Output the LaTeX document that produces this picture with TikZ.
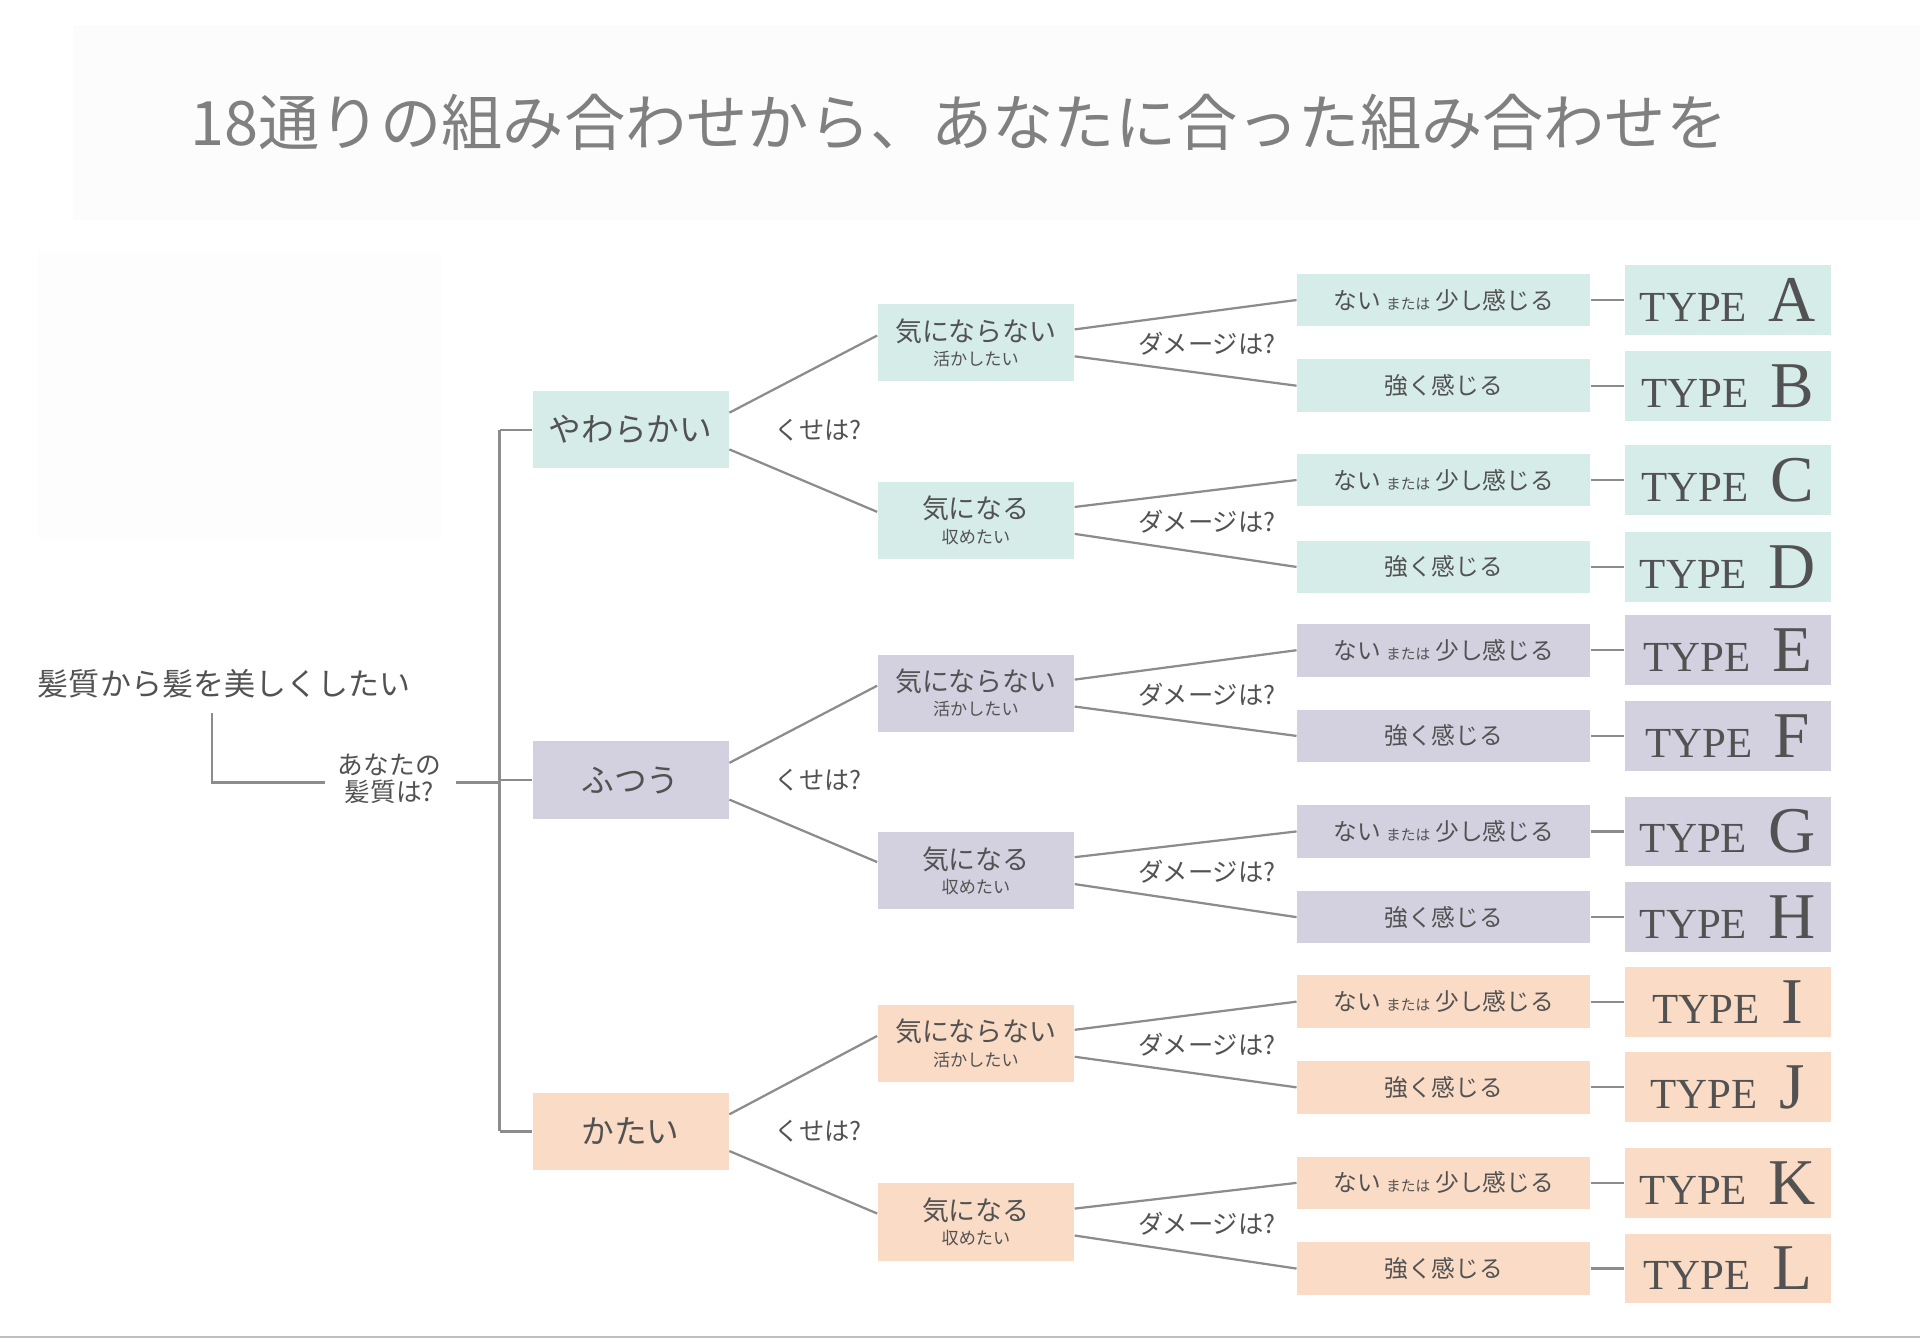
\documentclass[tikz,border=0pt]{standalone}
\usepackage{fontspec}
\setmainfont{Noto Sans CJK JP}[Scale=1]
\newfontfamily\lat{Liberation Serif}
\begin{document}
\begin{tikzpicture}[x=0.3pt,y=-0.3pt,
  txt/.style={text=black!68,inner sep=0pt},
  ln/.style={draw=black!45,line width=0.55pt},
  b1/.style={txt,minimum width=160*0.3pt,minimum height=63*0.3pt,font=\fontsize{8}{9}\selectfont},
  b2/.style={txt,minimum width=160*0.3pt,minimum height=63*0.3pt,align=center,font=\fontsize{6.6}{7}\selectfont},
  b3/.style={txt,minimum width=239*0.3pt,minimum height=43*0.3pt,font=\fontsize{5.8}{7}\selectfont},
  bt/.style={txt,minimum width=168*0.3pt,minimum height=57*0.3pt,font=\lat},
  q/.style={txt,font=\fontsize{6.2}{7}\selectfont},
]
\definecolor{cA}{HTML}{D5ECE9}\definecolor{cB}{HTML}{D3D1E0}\definecolor{cC}{HTML}{FADBC5}
\useasboundingbox (0,0) rectangle (1568,1094);
\fill[black!1] (60,20) rectangle (1568,180);
\fill[black!0.7] (30,205) rectangle (360,440);
\draw[black!25] (0,1092) -- (1568,1092);
\node[txt,font=\fontsize{15}{17}\selectfont,text=black!50] (title) at (783,100) {18通りの組み合わせから、あなたに合った組み合わせを};
\node[txt,font=\fontsize{7.6}{9}\selectfont] (root) at (183,558) {髪質から髪を美しくしたい};
\node[txt,align=center,font=\fontsize{6.3}{6.6}\selectfont] (ask) at (318,636) {あなたの\\髪質は?};
\coordinate (r1) at (173,582);
\coordinate (r2) at (173,639);
\coordinate (s0) at (408,639);
\draw[ln] (r1) -- (r2) -- ([xshift=-10*0.3pt]ask.west|-r2);
\draw[ln] ([xshift=12*0.3pt]ask.east|-r2) -- (s0);
\foreach \name/\lab/\y/\c in {g1/やわらかい/351/cA,g2/ふつう/637/cB,g3/かたい/924/cC}{
  \node[b1,fill=\c] (\name) at (515,\y) {\lab};
  \coordinate (\name s) at (408,\y);
  \draw[ln] (\name s) -- (\name.west);
  \node[q] (\name q) at (668,\y) {くせは?};
}
\draw[ln] (g1s) -- (g3s);
\foreach \g/\ya/\yb/\c in {g1/280/425/cA, g2/566/711/cB, g3/852/998/cC}{
  \node[b2,fill=\c] (\g a) at (797,\ya) {気にならない\\[-1pt]{\fontsize{4.2}{5}\selectfont 活かしたい}};
  \node[b2,fill=\c] (\g b) at (797,\yb) {気になる\\[-1pt]{\fontsize{4.2}{5}\selectfont 収めたい}};
  \draw[ln] ([yshift=14*0.3pt]\g.east) -- ([yshift=6*0.3pt]\g a.west);
  \draw[ln] ([yshift=-16*0.3pt]\g.east) -- ([yshift=7*0.3pt]\g b.west);
}
\foreach \n/\y/\c/\L in {A/245/cA/A,B/315/cA/B,C/392/cA/C,D/463/cA/D,E/531/cB/E,F/601/cB/F,G/679/cB/G,H/749/cB/H,I/818/cC/I,J/888/cC/J,K/966/cC/K,L/1036/cC/L}{
  \node[bt,fill=\c] (t\n) at (1411,\y) {\fontsize{10.5}{12}\selectfont TYPE\ \ \fontsize{16}{18}\selectfont\L};
}
\foreach \s/\u/\v/\c in {g1a/A/B/cA,g1b/C/D/cA,g2a/E/F/cB,g2b/G/H/cB,g3a/I/J/cC,g3b/K/L/cC}{
  \node[b3,fill=\c] (n\u) at (1179,0|-t\u) {ない {\fontsize{3.6}{4}\selectfont または} 少し感じる};
  \node[b3,fill=\c] (n\v) at (1179,0|-t\v) {強く感じる};
  \draw[ln] ([yshift=11*0.3pt]\s.east) -- (n\u.west);
  \draw[ln] ([yshift=-11*0.3pt]\s.east) -- (n\v.west);
  \node[q] (\s q) at ([xshift=108*0.3pt,yshift=-1*0.3pt]\s.east) {ダメージは?};
  \draw[ln] (n\u) -- (t\u);
  \draw[ln] (n\v) -- (t\v);
}
\end{tikzpicture}
\end{document}
